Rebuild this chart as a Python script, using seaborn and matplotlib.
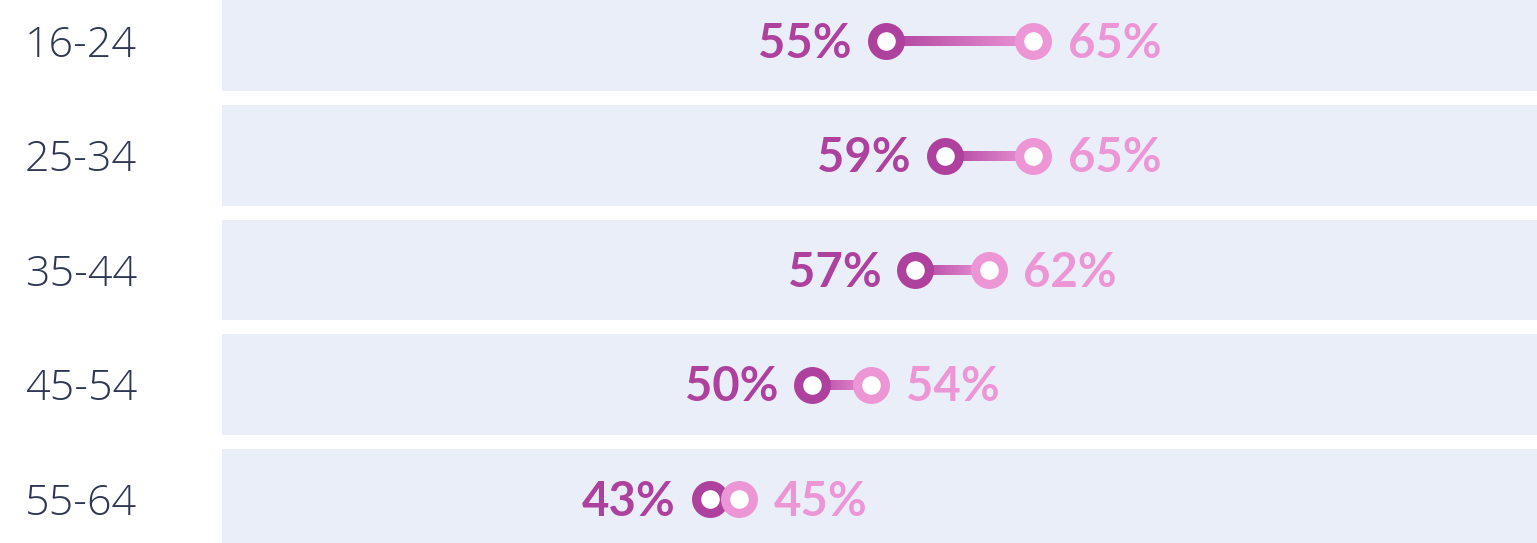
"""
Dumbbell chart: share by age group, two waves (dark = before, light = after).
"""
import numpy as np
import pandas as pd
import matplotlib
matplotlib.use("Agg")
import matplotlib.pyplot as plt
from matplotlib.collections import LineCollection
from matplotlib.colors import to_rgb
import seaborn as sns

# data
age_groups = ["16-24", "25-34", "35-44", "45-54", "55-64"]
before = [55, 59, 57, 50, 43]
after = [65, 65, 62, 54, 45]

DARK = "#AE419E"
LIGHT = "#EC96D6"
BAND = "#EAEEF9"
LABEL = "#2E3753"

sns.set_theme(style="white")
plt.rcParams["font.family"] = ["Lato", "DejaVu Sans"]

fig = plt.figure(figsize=(15.37, 5.43), dpi=100)
ax = fig.add_axes([222 / 1537, 0, 1315 / 1537, 1])
ax.set_xlim(9.83, 99.3)
ax.set_ylim(4.384, -0.358)
ax.axis("off")

df = pd.DataFrame({"grupo": age_groups, "antes": before, "depois": after})
df["y"] = np.arange(len(df))

# faixas de fundo
for y in df["y"]:
    ax.axhspan(y - 0.437, y + 0.437, color=BAND, zorder=0, lw=0)

# linhas com degradê
c0, c1 = np.array(to_rgb(DARK)), np.array(to_rgb(LIGHT))
for _, r in df.iterrows():
    xs = np.linspace(r["antes"], r["depois"], 60)
    segs = [[(xs[i], r["y"]), (xs[i + 1], r["y"])] for i in range(len(xs) - 1)]
    t = np.linspace(0, 1, len(segs))[:, None]
    cols = c0 * (1 - t) + c1 * t
    ax.add_collection(LineCollection(segs, colors=cols, linewidths=7.2,
                                     capstyle="butt", zorder=1))

# marcadores
sns.scatterplot(data=df, x="antes", y="y", ax=ax, s=20 ** 2, marker="o",
                facecolor="white", edgecolor=DARK, linewidth=6.6, zorder=2)
sns.scatterplot(data=df, x="depois", y="y", ax=ax, s=20 ** 2, marker="o",
                facecolor="white", edgecolor=LIGHT, linewidth=6.6, zorder=3)

# rótulos de valores (baseline deslocada para centrar os dígitos)
for _, r in df.iterrows():
    ax.annotate(f"{r['antes']}%", (r["antes"], r["y"]), xytext=(-24.5, -12),
                textcoords="offset points", ha="right", va="baseline",
                fontsize=34, fontweight="bold", color=DARK)
    ax.annotate(f"{r['depois']}%", (r["depois"], r["y"]), xytext=(25, -12),
                textcoords="offset points", ha="left", va="baseline",
                fontsize=34, fontweight="bold", color=LIGHT)

# rótulos das faixas etárias
for _, r in df.iterrows():
    ax.annotate(r["grupo"], (0, r["y"]), xycoords=("figure fraction", "data"),
                xytext=(25 / 1.389, -11.5), textcoords="offset points",
                ha="left", va="baseline", fontsize=31, fontweight="light",
                color=LABEL, family=["Open Sans", "Lato", "DejaVu Sans"])

fig.savefig("out.png", dpi=100)
